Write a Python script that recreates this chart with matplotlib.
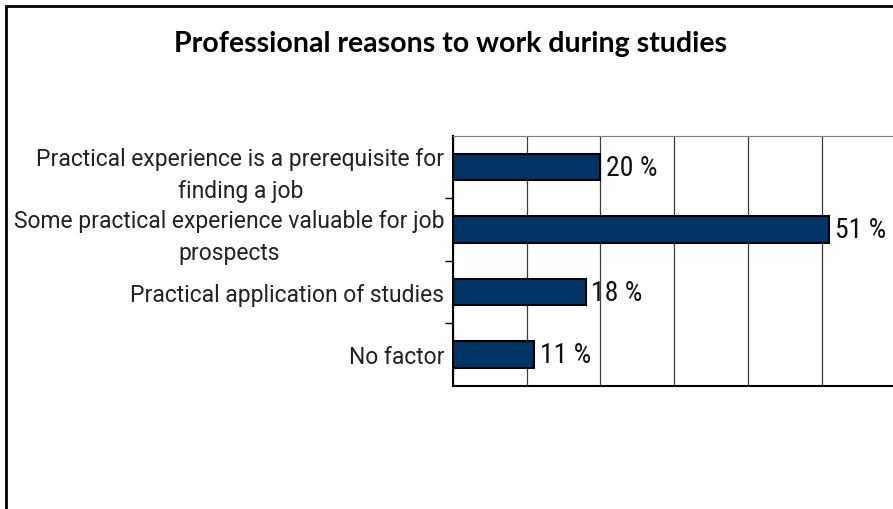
import matplotlib.pyplot as plt
from matplotlib.patches import Rectangle

reasons = [
    'Practical experience is a prerequisite for\nfinding a job',
    'Some practical experience valuable for job\nprospects',
    'Practical application of studies',
    'No factor',
]
shares = [20, 51, 18, 11]

label_font = 'Roboto'
value_font = 'Roboto Condensed'
navy = '#003366'

fig = plt.figure(figsize=(8.93, 5.10), dpi=100)
ax = fig.add_axes([0.507, 0.2418, 0.496, 0.4896])

ypos = list(range(len(reasons)))[::-1]
bars = ax.barh(ypos, shares, height=0.425, color=navy, edgecolor='black',
               linewidth=1.5, zorder=3)
ax.bar_label(bars, labels=[f'{v} %' for v in shares], padding=4,
             fontsize=20, family=value_font, color='#111111')

ax.set_xlim(0, 60)
ax.set_ylim(-0.5, len(reasons) - 0.5)
ax.set_xticks(range(0, 61, 10))
ax.tick_params(axis='x', length=0, labelbottom=False)
ax.grid(axis='x', color='#3c3c3c', linewidth=0.9, zorder=1)

# category boundaries get the tick marks, names sit on minor ticks
ax.set_yticks([y + 0.5 for y in range(len(reasons) - 1)])
ax.set_yticks(ypos, minor=True)
ax.set_yticklabels([])
ax.set_yticklabels(reasons, minor=True, family=label_font, fontsize=16.5,
                   color='#222222', multialignment='center', linespacing=1.5)
ax.tick_params(axis='y', which='major', length=6, width=1, direction='out')
ax.tick_params(axis='y', which='minor', length=0, pad=6)

for side in ('left', 'bottom'):
    ax.spines[side].set_linewidth(1.5)
ax.spines['top'].set_color('#808080')
ax.spines['right'].set_visible(False)

fig.text(0.505, 1 - 44 / 510, 'Professional reasons to work during studies',
         ha='center', va='center', fontsize=20.5, fontweight='bold',
         family='Lato', color='black')

# outer chart frame, only the top and left edges fall inside the image
fig.add_artist(Rectangle((6 / 893, -0.2), 1.2, 1.2 - 7 / 510,
                         transform=fig.transFigure, fill=False,
                         edgecolor='black', linewidth=2))

fig.savefig('out.png', dpi=100)
